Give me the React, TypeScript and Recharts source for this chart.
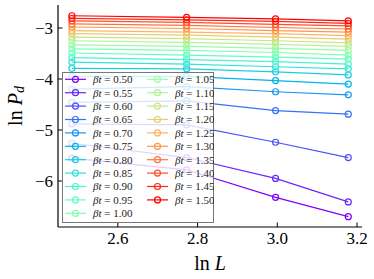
import { LineChart, Line, XAxis, YAxis, Legend } from "recharts";

// ln L for L = 12, 16, 20, 24
const lnL = [2.4849, 2.7726, 2.9957, 3.1781];

const betaT = [
  0.5, 0.55, 0.6, 0.65, 0.7, 0.75, 0.8, 0.85, 0.9, 0.95, 1.0,
  1.05, 1.1, 1.15, 1.2, 1.25, 1.3, 1.35, 1.4, 1.45, 1.5,
];

// ln P_d per beta t (rows follow betaT), columns follow lnL
const lnPd = [
  [-5.55, -5.78, -6.32, -6.7],
  [-5.26, -5.54, -5.95, -6.41],
  [-4.88, -4.9, -5.24, -5.54],
  [-4.46, -4.43, -4.62, -4.69],
  [-4.2, -4.15, -4.25, -4.31],
  [-3.95, -3.95, -4.03, -4.1],
  [-3.79, -3.8, -3.86, -3.92],
  [-3.67, -3.71, -3.76, -3.8],
  [-3.58, -3.62, -3.66, -3.71],
  [-3.49, -3.53, -3.57, -3.61],
  [-3.41, -3.44, -3.48, -3.53],
  [-3.33, -3.36, -3.4, -3.44],
  [-3.25, -3.28, -3.32, -3.36],
  [-3.18, -3.21, -3.25, -3.29],
  [-3.11, -3.14, -3.18, -3.22],
  [-3.05, -3.08, -3.11, -3.15],
  [-2.98, -3.01, -3.05, -3.08],
  [-2.92, -2.95, -2.99, -3.02],
  [-2.86, -2.89, -2.93, -2.96],
  [-2.81, -2.84, -2.87, -2.91],
  [-2.76, -2.79, -2.82, -2.86],
];

const xTicks = [2.6, 2.8, 3.0, 3.2];
const yTicks = [-6, -5, -4, -3];
const xDomain = [2.45, 3.2125];
const yDomain = [-6.902, -2.549];

const SERIF = "'Liberation Serif', 'DejaVu Serif', serif";

// matplotlib "rainbow" colormap
function rainbow(t: number) {
  const r = Math.min(1, Math.abs(2 * t - 0.5));
  const g = Math.sin(Math.PI * t);
  const b = Math.cos((Math.PI * t) / 2);
  const h = (v: number) => Math.round(Math.max(0, Math.min(1, v)) * 255);
  return `rgb(${h(r)},${h(g)},${h(b)})`;
}

const colors = betaT.map((_, j) => rainbow(j / (betaT.length - 1)));

const data = lnL.map((x, i) => {
  const row: Record<string, number> = { x };
  betaT.forEach((_, j) => {
    row[`s${j}`] = lnPd[j][i];
  });
  return row;
});

const minus = (v: number) => (v < 0 ? `\u2212${Math.abs(v)}` : `${v}`);

const XTick = ({ x, y, payload }: any) => (
  <g>
    <line x1={x} x2={x} y1={y} y2={y - 4.5} stroke="#000" strokeWidth={1} />
    <text x={x} y={y + 17} textAnchor="middle" fontSize={17} fontFamily={SERIF} fill="#000">
      {Number(payload.value).toFixed(1)}
    </text>
  </g>
);

const YTick = ({ x, y, payload }: any) => (
  <g>
    <line x1={x} x2={x + 4.5} y1={y} y2={y} stroke="#000" strokeWidth={1} />
    <text x={x - 5} y={y + 6} textAnchor="end" fontSize={17} fontFamily={SERIF} fill="#000">
      {minus(payload.value)}
    </text>
  </g>
);

function LegendBox() {
  const rowH = 13.4;
  return (
    <svg width={152} height={151} style={{ display: "block" }}>
      <rect x={0.5} y={0.5} width={151} height={150} fill="rgba(255,255,255,0.8)" stroke="#777" />
      {betaT.map((b, j) => {
        const col = j < 11 ? 0 : 1;
        const row = j < 11 ? j : j - 11;
        const x0 = col === 0 ? 3 : 85;
        const y = 7.3 + row * rowH;
        const c = colors[j];
        return (
          <g key={b}>
            <line x1={x0} x2={x0 + 21} y1={y} y2={y} stroke={c} strokeWidth={1.2} />
            <circle cx={x0 + 10.5} cy={y} r={3} fill="none" stroke={c} strokeWidth={1.2} />
            <text x={x0 + 28} y={y + 3.8} fontSize={11} fontFamily={SERIF} fill="#222">
              <tspan fontStyle="italic">βt</tspan>
              <tspan> = {b.toFixed(2)}</tspan>
            </text>
          </g>
        );
      })}
    </svg>
  );
}

export default function App() {
  return (
    <div style={{ position: "absolute", left: 0, top: 0, background: "#fff" }}>
      <LineChart width={374} height={279} data={data} margin={{ top: 5, right: 12, bottom: 0, left: 8 }}>
        <XAxis
          dataKey="x"
          type="number"
          domain={xDomain}
          ticks={xTicks}
          allowDataOverflow
          tick={<XTick />}
          tickLine={false}
          tickSize={0}
          tickMargin={0}
          height={52}
          stroke="#000"
          strokeWidth={1.2}
          label={(p: any) => {
            const vb = p.viewBox || { x: 58, width: 304, y: 227 };
            return (
              <text x={vb.x + vb.width / 2} y={vb.y + 43} textAnchor="middle" fontSize={20} fontFamily={SERIF} fill="#000">
                ln <tspan fontStyle="italic">L</tspan>
              </text>
            );
          }}
        />
        <XAxis xAxisId="top" orientation="top" type="number" domain={xDomain} tick={false} tickLine={false} height={0} stroke="#000" strokeWidth={1.2} />
        <YAxis
          type="number"
          domain={yDomain}
          ticks={yTicks}
          allowDataOverflow
          tick={<YTick />}
          tickLine={false}
          tickSize={0}
          tickMargin={0}
          width={50}
          stroke="#000"
          strokeWidth={1.2}
          label={() => (
            <text
              x={15}
              y={106}
              transform="rotate(-90, 15, 106)"
              textAnchor="middle"
              dominantBaseline="central"
              fontSize={20}
              fontFamily={SERIF}
              fill="#000"
            >
              ln <tspan fontStyle="italic">P</tspan>
              <tspan fontStyle="italic" fontSize={14} dy={4}>d</tspan>
            </text>
          )}
        />
        <YAxis yAxisId="right" orientation="right" type="number" domain={yDomain} tick={false} tickLine={false} width={0} stroke="#000" strokeWidth={1.2} />
        {betaT.map((b, j) => (
          <Line
            key={b}
            dataKey={`s${j}`}
            stroke={colors[j]}
            strokeWidth={1.2}
            dot={{ r: 3, fill: "none", stroke: colors[j], strokeWidth: 1.2 }}
            isAnimationActive={false}
          />
        ))}
        <Legend
          layout="vertical"
          align="center"
          verticalAlign="middle"
          wrapperStyle={{ position: "absolute", left: 62, top: 72, width: 152, height: 151 }}
          content={() => <LegendBox />}
        />
      </LineChart>
    </div>
  );
}
